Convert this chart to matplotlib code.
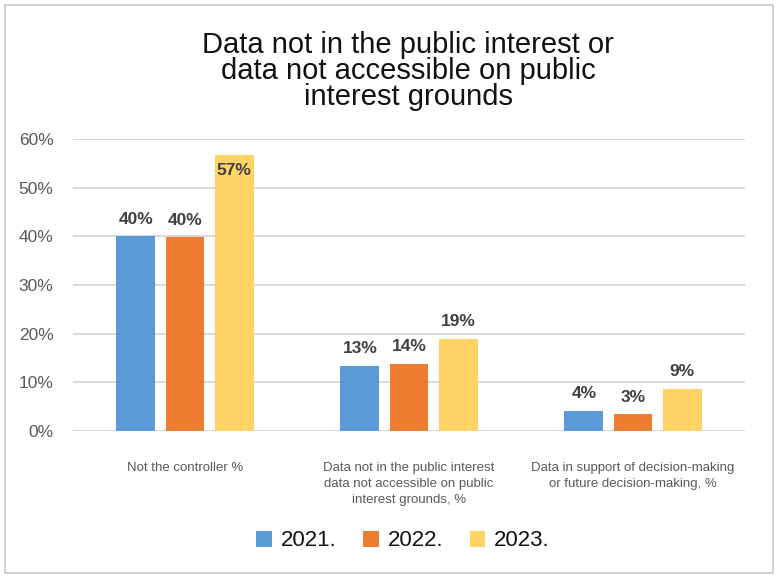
import numpy as np
import matplotlib.pyplot as plt
from matplotlib.patches import Rectangle

# survey shares per category and year (percent)
categories = ['Not the controller %',
              'Data not in the public interest\ndata not accessible on public\ninterest grounds, %',
              'Data in support of decision-making\nor future decision-making, %']
years = ['2021.', '2022.', '2023.']
v2021 = [40.0, 13.4, 4.1]
v2022 = [39.8, 13.8, 3.4]
v2023 = [56.7, 18.9, 8.6]
yticks = [0, 10, 20, 30, 40, 50, 60]

colors = ['#5B9BD5', '#ED7D31', '#FFD466']
title = 'Data not in the public interest or\ndata not accessible on public\ninterest grounds'

plt.rcParams['font.family'] = ['Liberation Sans', 'DejaVu Sans']

fig = plt.figure(figsize=(7.78, 5.77), dpi=100)
ax = fig.add_axes([73/778, 146/577, 672/778, 292/577])

x = np.arange(len(categories))
w = 0.174
step = 0.219
series = [v2021, v2022, v2023]
for i, vals in enumerate(series):
    bars = ax.bar(x + (i - 1) * step, vals, w, color=colors[i], label=years[i], zorder=3)
    for b, v in zip(bars, vals):
        cx = b.get_x() + b.get_width() / 2
        if v + 4 > 60:
            ax.annotate('%.0f%%' % v, (cx, v), xytext=(0, -6), textcoords='offset points',
                        ha='center', va='top', fontsize=12.5, fontweight='bold', color='#404040', zorder=4)
        else:
            ax.annotate('%.0f%%' % v, (cx, v), xytext=(0, 7), textcoords='offset points',
                        ha='center', va='bottom', fontsize=12.5, fontweight='bold', color='#404040', zorder=4)

ax.set_xlim(-0.5, 2.5)
ax.set_ylim(0, 60)
ax.set_yticks(yticks)
ax.set_yticklabels(['%d%%' % t for t in yticks], fontsize=12.5, color='#595959')
ax.set_xticks(x)
ax.set_xticklabels(categories, fontsize=9.5, color='#595959', va='top', linespacing=1.45)
ax.tick_params(axis='both', length=0)
ax.tick_params(axis='y', pad=14)
ax.tick_params(axis='x', pad=22)
ax.grid(axis='y', color='#d9d9d9', linewidth=1.4, zorder=0)
for s in ax.spines.values():
    s.set_visible(False)

fig.text(408/778, 1 - 31/577, title, ha='center', va='top', fontsize=21,
         linespacing=0.92, color='#111111')

leg = fig.legend(loc='center', bbox_to_anchor=(403/778, 1 - 541/577), ncol=3, frameon=False,
                 prop={'size': 16}, handlelength=0.7, handleheight=0.7,
                 handletextpad=0.4, columnspacing=1.2)
for t in leg.get_texts():
    t.set_color('#111111')

# thin frame around the whole chart
fig.patches.append(Rectangle((5/778, 4/577), 768/778, 568/577, transform=fig.transFigure,
                             fill=False, edgecolor='#c8c8c8', linewidth=1.2))

fig.savefig('out.png', dpi=100)
